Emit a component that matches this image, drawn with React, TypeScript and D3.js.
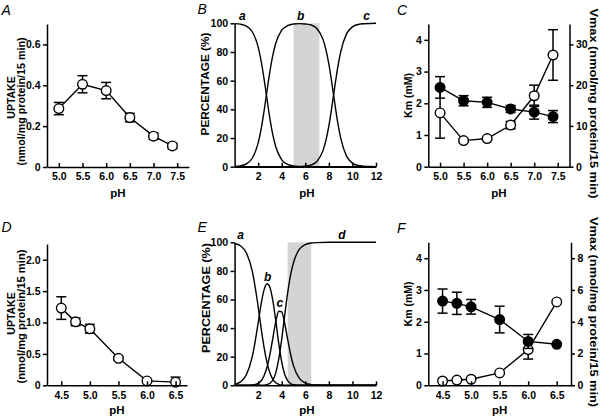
import React, { useEffect, useRef } from 'react';
import * as d3 from 'd3';

// ---- Panel A: uptake vs pH ----
const phA = [5.0, 5.5, 6.0, 6.5, 7.0, 7.4];
const uptakeA = [0.286, 0.405, 0.374, 0.242, 0.151, 0.103];
const uptakeErrA = [0.03, 0.042, 0.04, 0.021, 0.016, 0.013];

// ---- Panel B: species distribution (%) ----
const phCurveB = [0, 0.5, 1, 1.5, 2, 2.25, 2.5, 2.75, 3, 3.25, 3.5, 4, 4.5, 5, 5.5, 6, 6.5, 7, 7.5, 7.75, 8, 8.25, 8.5, 8.75, 9, 9.5, 10, 10.5, 11, 11.5, 12];
const speciesBa = [99.8, 99.4, 98.0, 94.1, 83.4, 73.8, 61.3, 47.1, 33.4, 22.0, 13.7, 4.8, 1.6, 0.5, 0.2, 0.1, 0, 0, 0, 0, 0, 0, 0, 0, 0, 0, 0, 0, 0, 0, 0];
const speciesBb = [0.2, 0.6, 2.0, 5.9, 16.6, 26.2, 38.7, 52.9, 66.6, 78.0, 86.3, 95.2, 98.4, 99.5, 99.8, 99.5, 98.8, 96.2, 88.8, 81.7, 71.5, 58.5, 44.3, 30.9, 20.1, 7.4, 2.5, 0.8, 0.3, 0.1, 0];
const speciesBc = [0, 0, 0, 0, 0, 0, 0, 0, 0, 0, 0, 0, 0, 0, 0, 0.4, 1.2, 3.8, 11.2, 18.3, 28.5, 41.5, 55.7, 69.1, 79.9, 92.6, 97.5, 99.2, 99.7, 99.9, 100];
const shadeB = [5.0, 7.2];

// ---- Panel C: Km / Vmax vs pH ----
const phC = [5.0, 5.5, 6.0, 6.5, 7.0, 7.4];
const kmC = [2.5, 2.08, 2.03, 1.82, 1.72, 1.58];
const kmErrC = [0.34, 0.16, 0.16, 0.11, 0.22, 0.19];
const vmaxC = [13.2, 6.4, 6.9, 10.2, 17.4, 27.4];
const vmaxErrC = [6.2, 0.4, 0.3, 0.9, 2.6, 6.2];

// ---- Panel D ----
const phD = [4.5, 4.75, 5.0, 5.5, 6.0, 6.5];
const uptakeD = [1.23, 1.01, 0.9, 0.43, 0.07, 0.05];
const uptakeErrD = [0.18, 0.06, 0.07, 0.03, 0.02, 0.08];

// ---- Panel E ----
const phCurveE = [0, 0.5, 1, 1.5, 2, 2.25, 2.5, 2.75, 3, 3.25, 3.5, 3.75, 4, 4.25, 4.5, 4.75, 5, 5.5, 6, 6.5, 7, 8, 9, 10, 11, 12];
const speciesEa = [99.2, 97.6, 92.6, 79.8, 55.0, 40.1, 26.5, 15.9, 8.6, 4.2, 1.8, 0.7, 0.2, 0.1, 0, 0, 0, 0, 0, 0, 0, 0, 0, 0, 0, 0];
const speciesEb = [0.8, 2.4, 7.4, 20.0, 43.6, 56.7, 66.7, 71.0, 68.4, 59.0, 44.7, 29.1, 16.2, 7.7, 3.2, 1.2, 0.4, 0.1, 0, 0, 0, 0, 0, 0, 0, 0];
const speciesEc = [0, 0, 0, 0.2, 1.4, 3.2, 6.7, 12.6, 21.6, 33.2, 44.7, 51.8, 51.3, 43.5, 32.3, 21.7, 13.6, 4.8, 1.6, 0.5, 0.2, 0, 0, 0, 0, 0];
const speciesEd = [0, 0, 0, 0, 0, 0, 0.1, 0.5, 1.4, 3.7, 8.9, 18.4, 32.3, 48.8, 64.5, 77.1, 85.9, 95.2, 98.4, 99.5, 99.8, 100, 100, 100, 100, 100];
const shadeE = [4.5, 6.5];

// ---- Panel F ----
const phF = [4.5, 4.75, 5.0, 5.5, 6.0, 6.5];
const kmF = [2.65, 2.58, 2.47, 2.07, 1.38, 1.29];
const kmErrF = [0.38, 0.35, 0.23, 0.42, 0.22, 0];
const vmaxF = [0.27, 0.33, 0.38, 0.78, 2.25, 5.25];
const vmaxErrF = [0, 0, 0, 0, 0.6, 0];

const FONT = '"Liberation Sans", Arial, Helvetica, sans-serif';
const TICK_FS = 10.5;

type G = d3.Selection<SVGGElement, unknown, null, undefined>;
type Lin = d3.ScaleLinear<number, number>;

const fmt1 = (d: d3.NumberValue) => (+d === 0 ? '0' : d3.format('.1f')(d));
const fmtInt = (d: d3.NumberValue) => d3.format('d')(d);

const styleAxis = (g: G) => {
  g.select('.domain').attr('stroke', '#000').attr('stroke-width', 1.5);
  g.selectAll('.tick line').attr('stroke', '#000').attr('stroke-width', 1.5);
  g.selectAll('.tick text')
    .attr('fill', '#000')
    .style('font-family', FONT)
    .style('font-size', `${TICK_FS}px`)
    .style('font-weight', 'bold');
};

const xAxis = (svg: G, x: Lin, y0: number, ticks: number[], f: (d: d3.NumberValue) => string) => {
  svg.append('g')
    .attr('transform', `translate(0,${y0})`)
    .call(d3.axisBottom(x).tickValues(ticks).tickFormat(f).tickSize(-4).tickSizeOuter(0).tickPadding(6))
    .call(styleAxis);
};

const yAxis = (svg: G, y: Lin, x0: number, ticks: number[], f: (d: d3.NumberValue) => string, right = false) => {
  const ax = right ? d3.axisRight(y) : d3.axisLeft(y);
  svg.append('g')
    .attr('transform', `translate(${x0},0)`)
    .call(ax.tickValues(ticks).tickFormat(f).tickSize(4).tickSizeOuter(0).tickPadding(2.5))
    .call(styleAxis);
};

const label = (svg: G, text: string, x: number, y: number, opts: { rot?: number; size?: number; weight?: string; italic?: boolean; anchor?: string; len?: number } = {}) => {
  const t = svg.append('text')
    .attr('transform', `translate(${x},${y})${opts.rot ? ` rotate(${opts.rot})` : ''}`)
    .attr('text-anchor', opts.anchor || 'middle')
    .style('font-family', FONT)
    .style('font-size', `${opts.size || 11}px`)
    .style('font-weight', opts.weight || 'bold')
    .style('font-style', opts.italic ? 'italic' : 'normal')
    .attr('fill', '#000')
    .text(text);
  if (opts.len) t.attr('textLength', opts.len).attr('lengthAdjust', 'spacingAndGlyphs');
};

const series = (svg: G, x: Lin, y: Lin, xs: number[], ys: number[], errs: number[], filled: boolean) => {
  const pts = xs.map((v, i) => ({ x: v, y: ys[i], e: errs[i] }));
  const eb = svg.append('g').attr('stroke', '#000').attr('stroke-width', 1.5);
  pts.filter(p => p.e > 0).forEach(p => {
    const cx = x(p.x);
    const lo = y(Math.max(0, p.y - p.e));
    const hi = y(p.y + p.e);
    eb.append('line').attr('x1', cx).attr('x2', cx).attr('y1', lo).attr('y2', hi);
    eb.append('line').attr('x1', cx - 5).attr('x2', cx + 5).attr('y1', hi).attr('y2', hi);
    if (p.y - p.e > 0) eb.append('line').attr('x1', cx - 5).attr('x2', cx + 5).attr('y1', lo).attr('y2', lo);
  });
  const line = d3.line<{ x: number; y: number }>().x(d => x(d.x)).y(d => y(d.y));
  svg.append('path').attr('d', line(pts) || '').attr('fill', 'none').attr('stroke', '#000').attr('stroke-width', 1.4);
  svg.append('g').selectAll('circle').data(pts).join('circle')
    .attr('cx', d => x(d.x)).attr('cy', d => y(d.y)).attr('r', 4.8)
    .attr('fill', filled ? '#000' : '#fff').attr('stroke', '#000').attr('stroke-width', 1.4);
};

const curves = (svg: G, x: Lin, y: Lin, xs: number[], list: number[][]) => {
  const line = d3.line<number>().x((_, i) => x(xs[i])).y(d => y(d)).curve(d3.curveMonotoneX);
  list.forEach(vals => {
    svg.append('path').attr('d', line(vals) || '').attr('fill', 'none').attr('stroke', '#000').attr('stroke-width', 1.4);
  });
};

const App: React.FC = () => {
  const svgRef = useRef<SVGSVGElement>(null);

  useEffect(() => {
    if (!svgRef.current) return;
    d3.select(svgRef.current).selectAll('*').remove();
    const svg = d3.select(svgRef.current).append('g') as unknown as G;

    // ===== A =====
    {
      const x = d3.scaleLinear().domain([4.75, 7.75]).range([47, 189]);
      const y = d3.scaleLinear().domain([0, 0.7]).range([167, 24]);
      series(svg, x, y, phA, uptakeA, uptakeErrA, false);
      xAxis(svg, x, 167, [5, 5.5, 6, 6.5, 7, 7.5], fmt1);
      yAxis(svg, y, 47, [0, 0.2, 0.4, 0.6], fmt1);
      label(svg, 'UPTAKE', 14.5, 97.5, { rot: -90, size: 10.5 });
      label(svg, '(nmol/mg protein/15 min)', 25, 101.5, { rot: -90, size: 10.5, len: 128 });
      label(svg, 'pH', 118, 196.5, { size: 11.5 });
      label(svg, 'A', 1.5, 15, { size: 14, weight: 'normal', italic: true, anchor: 'start' });
    }

    // ===== B =====
    {
      const x = d3.scaleLinear().domain([0, 12]).range([234.6, 376]);
      const y = d3.scaleLinear().domain([0, 100]).range([166.7, 23.3]);
      svg.append('rect')
        .attr('x', x(shadeB[0])).attr('width', x(shadeB[1]) - x(shadeB[0]))
        .attr('y', y(100)).attr('height', y(0) - y(100)).attr('fill', '#d4d4d4');
      curves(svg, x, y, phCurveB, [speciesBa, speciesBb, speciesBc]);
      xAxis(svg, x, 166.7, [2, 4, 6, 8, 10, 12], fmtInt);
      yAxis(svg, y, 234.6, [0, 20, 40, 60, 80, 100], fmtInt);
      label(svg, 'PERCENTAGE (%)', 209, 84, { rot: -90, size: 11.5, len: 103 });
      label(svg, 'pH', 307, 196.5, { size: 11.5 });
      label(svg, 'B', 197.5, 14, { size: 14, weight: 'normal', italic: true, anchor: 'start' });
      [['a', 0.65], ['b', 5.6], ['c', 11.2]].forEach(([t, p]) =>
        label(svg, t as string, x(p as number), y(102), { size: 12, italic: true }));
    }

    // ===== C =====
    {
      const x = d3.scaleLinear().domain([4.75, 7.75]).range([428.3, 569.5]);
      const yl = d3.scaleLinear().domain([0, 4.5]).range([166.7, 24]);
      const yr = d3.scaleLinear().domain([0, 35]).range([166.7, 24]);
      series(svg, x, yr, phC, vmaxC, vmaxErrC, false);
      series(svg, x, yl, phC, kmC, kmErrC, true);
      xAxis(svg, x, 166.7, [5, 5.5, 6, 6.5, 7, 7.5], fmt1);
      yAxis(svg, yl, 428.3, [0, 1, 2, 3, 4], fmtInt);
      yAxis(svg, yr, 569.5, [0, 10, 20, 30], fmtInt, true);
      label(svg, 'Km (mM)', 412, 95.5, { rot: -90, size: 10.5 });
      label(svg, 'Vmax (nmol/mg protein/15 min)', 590, 103.5, { rot: 90, size: 11.5, len: 190 });
      label(svg, 'pH', 499, 196.5, { size: 11.5 });
      label(svg, 'C', 397, 14.5, { size: 14, weight: 'normal', italic: true, anchor: 'start' });
    }

    // ===== D =====
    {
      const x = d3.scaleLinear().domain([4.25, 6.7]).range([47, 187]);
      const y = d3.scaleLinear().domain([0, 2.25]).range([385.3, 244]);
      series(svg, x, y, phD, uptakeD, uptakeErrD, false);
      xAxis(svg, x, 385.3, [4.5, 5, 5.5, 6, 6.5], fmt1);
      yAxis(svg, y, 47, [0, 0.5, 1, 1.5, 2], fmt1);
      label(svg, 'UPTAKE', 14.5, 313.5, { rot: -90, size: 10.5 });
      label(svg, '(nmol/mg protein/15 min)', 25, 316.5, { rot: -90, size: 10.5, len: 134 });
      label(svg, 'pH', 117, 414, { size: 11.5 });
      label(svg, 'D', 1.5, 232, { size: 14, weight: 'normal', italic: true, anchor: 'start' });
    }

    // ===== E =====
    {
      const x = d3.scaleLinear().domain([0, 12]).range([234.6, 376]);
      const y = d3.scaleLinear().domain([0, 100]).range([385.3, 242.3]);
      svg.append('rect')
        .attr('x', x(shadeE[0])).attr('width', x(shadeE[1]) - x(shadeE[0]))
        .attr('y', y(100)).attr('height', y(0) - y(100)).attr('fill', '#d4d4d4');
      curves(svg, x, y, phCurveE, [speciesEa, speciesEb, speciesEc, speciesEd]);
      xAxis(svg, x, 385.3, [2, 4, 6, 8, 10, 12], fmtInt);
      yAxis(svg, y, 234.6, [0, 20, 40, 60, 80, 100], fmtInt);
      label(svg, 'PERCENTAGE (%)', 210, 298, { rot: -90, size: 11.5, len: 110 });
      label(svg, 'pH', 307, 414, { size: 11.5 });
      label(svg, 'E', 197.5, 232, { size: 14, weight: 'normal', italic: true, anchor: 'start' });
      [['a', 0.5, 102], ['b', 2.8, 73], ['c', 3.85, 55], ['d', 9.1, 102]].forEach(([t, p, v]) =>
        label(svg, t as string, x(p as number), y(v as number), { size: 12, italic: true }));
    }

    // ===== F =====
    {
      const x = d3.scaleLinear().domain([4.25, 6.75]).range([428.3, 571]);
      const yl = d3.scaleLinear().domain([0, 4.5]).range([385.3, 242.3]);
      const yr = d3.scaleLinear().domain([0, 9]).range([385.3, 242.3]);
      series(svg, x, yr, phF, vmaxF, vmaxErrF, false);
      series(svg, x, yl, phF, kmF, kmErrF, true);
      xAxis(svg, x, 385.3, [4.5, 5, 5.5, 6, 6.5], fmt1);
      yAxis(svg, yl, 428.3, [0, 1, 2, 3, 4], fmtInt);
      yAxis(svg, yr, 571, [0, 2, 4, 6, 8], fmtInt, true);
      label(svg, 'Km (mM)', 412, 304, { rot: -90, size: 10.5 });
      label(svg, 'Vmax (nmol/mg protein/15 min)', 590, 312, { rot: 90, size: 11.5, len: 190 });
      label(svg, 'pH', 499.6, 414, { size: 11.5 });
      label(svg, 'F', 397, 233, { size: 14, weight: 'normal', italic: true, anchor: 'start' });
    }
  }, []);

  return (
    <svg
      ref={svgRef}
      width={601}
      height={416}
      style={{ position: 'absolute', left: 0, top: 0, background: '#fff', display: 'block' }}
    />
  );
};

export default App;
